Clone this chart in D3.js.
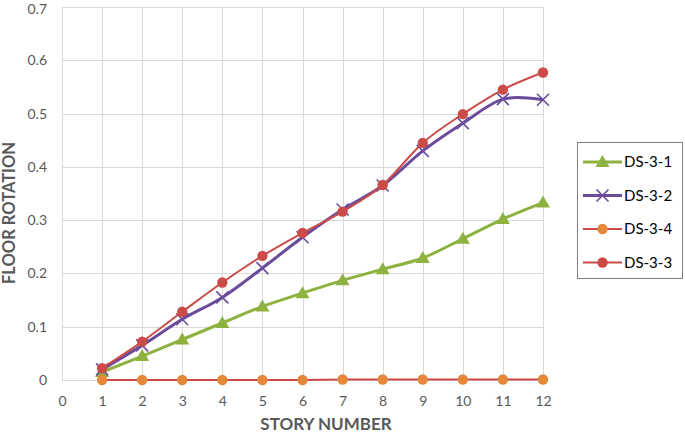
<!DOCTYPE html>
<html>
<head>
<meta charset="utf-8">
<script src="https://cdn.jsdelivr.net/npm/d3@7"></script>
<style>
  body { margin: 0; background: #fff; }
  svg { display: block; font-family: Lato, "Open Sans", sans-serif; }
</style>
</head>
<body>
<div id="chart"></div>
<script>
// story numbers on the x axis
var stories = [1, 2, 3, 4, 5, 6, 7, 8, 9, 10, 11, 12];
var xTicks = [0, 1, 2, 3, 4, 5, 6, 7, 8, 9, 10, 11, 12];
var yTicks = [0, 0.1, 0.2, 0.3, 0.4, 0.5, 0.6, 0.7];

// floor rotation
var ds31 = [0.015, 0.045, 0.076, 0.107, 0.138, 0.163, 0.187, 0.208, 0.229, 0.265, 0.302, 0.333];
var ds32 = [0.02, 0.065, 0.114, 0.155, 0.21, 0.268, 0.32, 0.365, 0.43, 0.482, 0.527, 0.526];
var ds34 = [0, 0, 0, 0, 0, 0, 0.001, 0.001, 0.001, 0.001, 0.001, 0.001];
var ds33 = [0.022, 0.072, 0.128, 0.183, 0.233, 0.276, 0.316, 0.366, 0.445, 0.499, 0.545, 0.577];

var seriesNames = ["DS-3-1", "DS-3-2", "DS-3-4", "DS-3-3"];

var series = [
  {name: seriesNames[0], values: ds31, line: "#8db23f", fill: "#8db23f", marker: "triangle", width: 3},
  {name: seriesNames[1], values: ds32, line: "#6a4c9b", fill: "#6a4c9b", marker: "cross", width: 3},
  {name: seriesNames[2], values: ds34, line: "#cc4b48", fill: "#e5883a", marker: "circle", width: 2},
  {name: seriesNames[3], values: ds33, line: "#cc4b48", fill: "#cc4b48", marker: "circle", width: 2}
];

var W = 685, H = 433;
var svg = d3.select("#chart").append("svg")
  .attr("width", W)
  .attr("height", H);

var x = d3.scaleLinear().domain([0, 12]).range([62, 543]);
var y = d3.scaleLinear().domain([0, 0.7]).range([380, 7]);

// grid
svg.append("g").selectAll("line.h")
  .data(yTicks)
  .enter().append("line")
  .attr("x1", x(0)).attr("x2", x(12))
  .attr("y1", function(d) { return Math.round(y(d)) + 0.5; })
  .attr("y2", function(d) { return Math.round(y(d)) + 0.5; })
  .attr("stroke", "#d9d9d9").attr("stroke-width", 1);

svg.append("g").selectAll("line.v")
  .data(xTicks)
  .enter().append("line")
  .attr("y1", y(0.7)).attr("y2", y(0))
  .attr("x1", function(d) { return Math.round(x(d)) + 0.5; })
  .attr("x2", function(d) { return Math.round(x(d)) + 0.5; })
  .attr("stroke", "#d9d9d9").attr("stroke-width", 1);

// tick labels
var yAxis = d3.axisLeft(y).tickValues(yTicks).tickSize(0).tickPadding(15)
  .tickFormat(function(d) { return d === 0 ? "0" : d3.format(".1f")(d); });
var gy = svg.append("g").attr("transform", "translate(" + x(0) + ",0)").call(yAxis);
gy.select(".domain").remove();
gy.selectAll("text").attr("fill", "#595959").style("font-size", "14px").style("font-family", "Lato, sans-serif");
// keep the top label inside the picture
gy.selectAll(".tick").filter(function(d) { return d === 0.7; }).select("text").attr("dy", "0.45em");

var xAxis = d3.axisBottom(x).tickValues(xTicks).tickSize(0).tickPadding(16)
  .tickFormat(d3.format("d"));
var gx = svg.append("g").attr("transform", "translate(0," + y(0) + ")").call(xAxis);
gx.select(".domain").remove();
gx.selectAll("text").attr("fill", "#595959").style("font-size", "14px").style("font-family", "Lato, sans-serif");

// axis titles
svg.append("text")
  .attr("x", 326).attr("y", 430)
  .attr("text-anchor", "middle")
  .attr("fill", "#595959")
  .style("font-size", "17px").style("font-weight", "bold")
  .text("STORY NUMBER");

svg.append("text")
  .attr("transform", "translate(15,213) rotate(-90)")
  .attr("text-anchor", "middle")
  .attr("fill", "#595959")
  .style("font-size", "16.5px").style("font-weight", "bold")
  .text("FLOOR ROTATION");

var line = d3.line()
  .x(function(d, i) { return x(stories[i]); })
  .y(function(d) { return y(d); })
  .curve(d3.curveCardinal.tension(0));

function drawMarker(g, s, cx, cy) {
  if (s.marker === "triangle") {
    g.append("path")
      .attr("d", "M" + cx + "," + (cy - 7) + "L" + (cx + 7) + "," + (cy + 5) + "L" + (cx - 7) + "," + (cy + 5) + "Z")
      .attr("fill", s.fill);
  } else if (s.marker === "cross") {
    g.append("path")
      .attr("d", "M" + (cx - 6) + "," + (cy - 6) + "L" + (cx + 6) + "," + (cy + 6) + "M" + (cx + 6) + "," + (cy - 6) + "L" + (cx - 6) + "," + (cy + 6))
      .attr("stroke", s.fill).attr("stroke-width", 1.6).attr("fill", "none");
  } else {
    g.append("circle")
      .attr("cx", cx).attr("cy", cy).attr("r", 5.2)
      .attr("fill", s.fill);
  }
}

series.forEach(function(s) {
  var g = svg.append("g");
  g.append("path")
    .attr("d", line(s.values))
    .attr("fill", "none")
    .attr("stroke", s.line)
    .attr("stroke-width", s.width);
  s.values.forEach(function(v, i) {
    drawMarker(g, s, x(stories[i]), y(v));
  });
});

// legend
var lg = svg.append("g");
lg.append("rect")
  .attr("x", 577.5).attr("y", 142.5)
  .attr("width", 105).attr("height", 136)
  .attr("fill", "#fff").attr("stroke", "#7f7f7f").attr("stroke-width", 1);

series.forEach(function(s, i) {
  var ly = 162 + i * 33.5;
  lg.append("line")
    .attr("x1", 583).attr("x2", 622)
    .attr("y1", ly).attr("y2", ly)
    .attr("stroke", s.line).attr("stroke-width", s.width);
  drawMarker(lg, s, 602.5, ly);
  lg.append("text")
    .attr("x", 624).attr("y", ly)
    .attr("dy", "0.36em")
    .attr("fill", "#000")
    .style("font-size", "15px")
    .text(s.name);
});
</script>
</body>
</html>
